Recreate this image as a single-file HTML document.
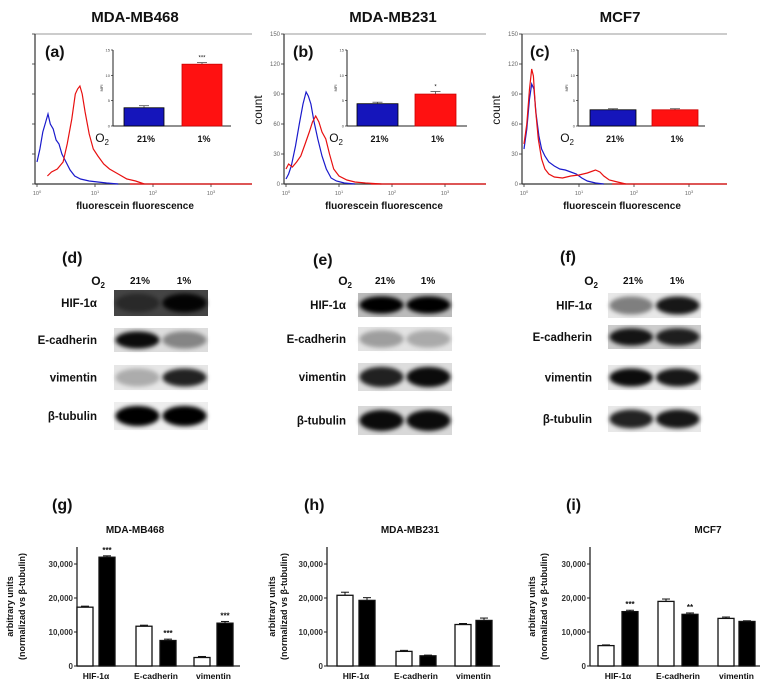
<!DOCTYPE html>
<html><head><meta charset="utf-8">
<style>
html,body{margin:0;padding:0;background:#fff;}
svg{display:block;font-family:"Liberation Sans",sans-serif;}
</style></head>
<body>
<svg id="fig" width="773" height="686" viewBox="0 0 773 686" xmlns="http://www.w3.org/2000/svg">
<defs>
<filter id="blur" x="-20%" y="-50%" width="140%" height="200%"><feGaussianBlur stdDeviation="2.2"/></filter>
</defs>
<g id="root"></g>
</svg>
<script>
// ---------- Histogram data (log10 fluorescence, count) ----------
const histA_blue_x=[0,0.05,0.1,0.15,0.19,0.23,0.28,0.33,0.38,0.43,0.5,0.57,0.65,0.75,0.9,1.05,1.2,1.4];
const histA_blue_y=[22,35,52,62,70,60,55,44,40,30,22,14,8,5,3,2,1,0];
const histA_red_x=[0.18,0.25,0.35,0.45,0.52,0.6,0.66,0.7,0.74,0.78,0.83,0.9,0.97,1.05,1.15,1.25,1.4,1.55,1.7,1.85];
const histA_red_y=[8,12,15,22,40,65,90,95,98,90,72,50,35,28,20,15,10,5,3,0];
const histB_blue_x=[0,0.05,0.1,0.18,0.25,0.32,0.38,0.42,0.47,0.53,0.6,0.68,0.76,0.85,0.95,1.1,1.3];
const histB_blue_y=[5,10,18,38,60,80,92,88,80,62,45,28,15,6,3,1,0];
const histB_red_x=[0,0.05,0.12,0.2,0.28,0.36,0.44,0.5,0.56,0.62,0.68,0.75,0.82,0.9,1.0,1.15,1.3,1.5,1.8];
const histB_red_y=[15,20,17,22,28,40,52,62,68,62,52,45,30,15,8,4,2,1,0];
const histC_blue_x=[0,0.05,0.1,0.14,0.18,0.22,0.27,0.32,0.38,0.45,0.55,0.65,0.75,0.85,0.95,1.05,1.15,1.3,1.45];
const histC_blue_y=[35,55,85,100,95,70,48,35,28,22,18,15,14,12,10,6,3,1,0];
const histC_red_x=[0,0.05,0.1,0.14,0.17,0.21,0.26,0.32,0.38,0.45,0.55,0.7,0.85,1.0,1.15,1.3,1.38,1.45,1.55,1.7,1.85];
const histC_red_y=[40,60,95,115,108,75,45,25,15,10,7,6,8,9,11,14,12,8,4,2,0];
// ---------- Inset MFI data ----------
const insetLabels=["21%","1%"];
const mfiA=[3.6,12.2]; const mfiAerr=[0.4,0.3];
const mfiB=[4.4,6.3]; const mfiBerr=[0.3,0.5];
const mfiC=[3.2,3.2]; const mfiCerr=[0.2,0.2];
const mfiStars=["***","*",""];
// ---------- Densitometry bar data ----------
const categories=["HIF-1α","E-cadherin","vimentin"];
const yTicks=[0,10000,20000,30000];
const yTickLabels=["0","10,000","20,000","30,000"];
const gNormoxia=[17300,11700,2500]; const gHypoxia=[32000,7500,12600];
const gNormErr=[300,300,300]; const gHypErr=[400,400,500];
const gStars=["***","***","***"];
const hNormoxia=[20800,4300,12200]; const hHypoxia=[19300,3000,13400];
const hNormErr=[900,300,300]; const hHypErr=[800,200,700];
const hStars=["","",""];
const iNormoxia=[6000,19000,14000]; const iHypoxia=[16000,15200,13100];
const iNormErr=[200,700,400]; const iHypErr=[400,400,200];
const iStars=["***","**",""];
// ---------- Blot band intensities (0..1) ----------
const blotRows=["HIF-1α","E-cadherin","vimentin","β-tubulin"];
const blotD=[[0.4,0.95],[0.95,0.4],[0.25,0.85],[1,1]];
const blotE=[[1,1],[0.3,0.25],[0.85,0.95],[0.95,0.95]];
const blotF=[[0.45,0.9],[0.9,0.85],[0.95,0.9],[0.85,0.9]];

const NS="http://www.w3.org/2000/svg";
const root=document.getElementById('root');
function mk(tag,attrs,parent){const e=document.createElementNS(NS,tag);for(const k in attrs)e.setAttribute(k,attrs[k]);(parent||root).appendChild(e);return e;}
function txt(s,x,y,size,opts,parent){opts=opts||{};const e=mk('text',{x:x,y:y,'font-size':size,'font-weight':opts.bold?'bold':'normal','text-anchor':opts.anchor||'start',fill:opts.fill||'#111'},parent);if(opts.rot)e.setAttribute('transform','rotate(-90 '+x+' '+y+')');e.textContent=s;return e;}

// ---------- Histogram panels ----------
const hists=[
 {id:'a',title:'MDA-MB468',tx:135,x0:35,x1:252,dec:58,lbl:'(a)',lx:45,ylabels:false,
  series:[[histA_blue_x,histA_blue_y,'#1a1acc'],[histA_red_x,histA_red_y,'#e81010']],
  inset:{ax:113,bw:40,b1:124,b2:182,right:231,v:mfiA,e:mfiAerr,s:mfiStars[0]}},
 {id:'b',title:'MDA-MB231',tx:393,x0:284,x1:486,dec:53,lbl:'(b)',lx:293,ylabels:true,cx:262,
  series:[[histB_blue_x,histB_blue_y,'#1a1acc'],[histB_red_x,histB_red_y,'#e81010']],
  inset:{ax:347,bw:41,b1:357,b2:415,right:467,v:mfiB,e:mfiBerr,s:mfiStars[1]}},
 {id:'c',title:'MCF7',tx:620,x0:522,x1:727,dec:55,lbl:'(c)',lx:530,ylabels:true,cx:500,
  series:[[histC_blue_x,histC_blue_y,'#1a1acc'],[histC_red_x,histC_red_y,'#e81010']],
  inset:{ax:578,bw:46,b1:590,b2:652,right:705,v:mfiC,e:mfiCerr,s:mfiStars[2]}}
];
const HB=184, HT=34;
function hy(c){return HB-(c/150)*(HB-HT);}
hists.forEach(p=>{
  const g=mk('g',{});
  
  
  const t=txt(p.title,p.tx,22,15,{bold:true,anchor:'middle'},g);
  
  mk('line',{x1:p.x0,y1:HT,x2:p.x1,y2:HT,stroke:'#999','stroke-width':1},g);
  mk('line',{x1:p.x0,y1:HT,x2:p.x0,y2:HB,stroke:'#333','stroke-width':1.2},g);
  mk('line',{x1:p.x0,y1:HB,x2:p.x1,y2:HB,stroke:'#333','stroke-width':1.2},g);
  for(let c=0;c<=150;c+=30){
    mk('line',{x1:p.x0-3,y1:hy(c),x2:p.x0,y2:hy(c),stroke:'#333','stroke-width':0.8},g);
    if(p.ylabels) txt(String(c),p.x0-4,hy(c)+2,6,{anchor:'end',fill:'#666'},g);
  }
  for(let d=0;d<=4;d++){
    const x=p.x0+2+d*p.dec; if(x>p.x1+3) continue;
    mk('line',{x1:x,y1:HB,x2:x,y2:HB+3,stroke:'#333','stroke-width':0.8},g);
    const tl=txt('10',x,195,5.5,{anchor:'middle',fill:'#666'},g);
    const sp=mk('tspan',{dy:-2,'font-size':4},tl);sp.textContent=String(d);
  }
  const xl=txt('fluorescein fluorescence',p.x0+100,209,10,{bold:true,anchor:'middle'},g);
  
  if(p.cx){const yl=txt('count',p.cx,110,12,{anchor:'middle',rot:true},g);}
  const pl=txt(p.lbl,p.lx,57,16,{bold:true},g);
  p.series.forEach((s,i)=>{
    const pts=s[0].map((lx,k)=>(p.x0+2+lx*p.dec).toFixed(1)+','+hy(s[1][k]).toFixed(1)).join(' ');
    const ln=mk('polyline',{points:pts,fill:'none',stroke:s[2],'stroke-width':1.2},g);
    
    
  });
  mk('line',{x1:p.x0+2+1.6*p.dec,y1:HB,x2:p.x1,y2:HB,stroke:'#e81010','stroke-width':1.2},g);
  const n=p.inset, iT=50, iB=126;
  function iy(v){return iB-(v/15)*(iB-iT);}
  const ig=mk('g',{},g);
  
  mk('line',{x1:n.ax,y1:iT,x2:n.ax,y2:iB,stroke:'#222','stroke-width':1},ig);
  mk('line',{x1:n.ax,y1:iB,x2:n.right,y2:iB,stroke:'#222','stroke-width':1},ig);
  [0,5,10,15].forEach(v=>{mk('line',{x1:n.ax-2,y1:iy(v),x2:n.ax,y2:iy(v),stroke:'#222','stroke-width':0.7},ig);txt(String(v),n.ax-3,iy(v)+1.5,4,{anchor:'end',fill:'#444'},ig);});
  txt('MFI',n.ax-10,(iT+iB)/2,4,{anchor:'middle',rot:true},ig);
  [n.b1,n.b2].forEach((bx,i)=>{
    const r=mk('rect',{x:bx,y:iy(n.v[i]),width:n.bw,height:iB-iy(n.v[i]),fill:i?'#ff1111':'#1515bb',stroke:i?'#cc0000':'#000','stroke-width':0.8},ig);
    
    const ey=iy(n.v[i]+n.e[i]);
    mk('line',{x1:bx+n.bw/2,y1:ey,x2:bx+n.bw/2,y2:iy(n.v[i]),stroke:'#333','stroke-width':0.7},ig);
    mk('line',{x1:bx+n.bw/2-5,y1:ey,x2:bx+n.bw/2+5,y2:ey,stroke:'#333','stroke-width':0.7},ig);
    txt(insetLabels[i],bx+n.bw/2+2,142,9,{bold:true,anchor:'middle'},ig);
  });
  if(n.s) txt(n.s,n.b2+n.bw/2,iy(n.v[1]+n.e[1])-3,6,{anchor:'middle'},ig);
  const o=txt('O',n.ax-4,142,12,{anchor:'end'},ig);
  const sub=mk('tspan',{dy:3,'font-size':8},o);sub.textContent='2';
});

// ---------- Western blots ----------
const blots=[
 {id:'d',lbl:'(d)',lx:62,ly:263,o2x:105,labX:97,x0:114,x1:208,c1:140,c2:184,rows:[[290,316,'#444'],[328,352,'#ddd'],[365,390,'#e6e6e6'],[402,430,'#eee']],data:blotD},
 {id:'e',lbl:'(e)',lx:313,ly:265,o2x:352,labX:346,x0:358,x1:452,c1:385,c2:428,rows:[[293,317,'#bbb'],[327,351,'#e3e3e3'],[363,391,'#ddd'],[406,435,'#d8d8d8']],data:blotE},
 {id:'f',lbl:'(f)',lx:560,ly:262,o2x:598,labX:592,x0:608,x1:701,c1:633,c2:677,rows:[[293,318,'#e8e8e8'],[325,349,'#ccc'],[365,390,'#e8e8e8'],[406,432,'#e8e8e8']],data:blotF}
];
blots.forEach(b=>{
  const g=mk('g',{});
  
  const pl=txt(b.lbl,b.lx,b.ly,16,{bold:true},g);
  const o=txt('O',b.o2x,285,12,{bold:true,anchor:'end'},g);const s=mk('tspan',{dy:3,'font-size':8},o);s.textContent='2';
  txt('21%',b.c1,284,10,{bold:true,anchor:'middle'},g);
  txt('1%',b.c2,284,10,{bold:true,anchor:'middle'},g);
  b.rows.forEach((r,i)=>{
    const mid=(r[0]+r[1])/2;
    const lab=txt(blotRows[i],b.labX,mid+4,11.5,{bold:true,anchor:'end'},g);
    
    const strip=mk('rect',{x:b.x0,y:r[0],width:b.x1-b.x0,height:r[1]-r[0],fill:r[2]},g);
    
    const w=(b.x1-b.x0)/2;
    b.data[i].forEach((v,k)=>{
      const cx=b.x0+w*k+w/2;
      const e=mk('ellipse',{cx:cx,cy:mid,rx:w*0.47,ry:(r[1]-r[0])*0.36,fill:'#000','fill-opacity':v,filter:'url(#blur)'},g);
      
    });
  });
});

// ---------- Densitometry bar charts ----------
const bars=[
 {id:'g',title:'MDA-MB468',tx:135,lbl:'(g)',lx:52,ax:77,right:240,n:gNormoxia,h:gHypoxia,ne:gNormErr,he:gHypErr,st:gStars,off:[[0,22],[59,83],[117,140]],yl:[13,25]},
 {id:'h',title:'MDA-MB231',tx:410,lbl:'(h)',lx:304,ax:327,right:500,n:hNormoxia,h:hHypoxia,ne:hNormErr,he:hHypErr,st:hStars,off:[[10,32],[69,93],[128,149]],yl:[275,287]},
 {id:'i',title:'MCF7',tx:708,lbl:'(i)',lx:566,ax:590,right:760,n:iNormoxia,h:iHypoxia,ne:iNormErr,he:iHypErr,st:iStars,off:[[8,32],[68,92],[128,149]],yl:[535,547]}
];
const BY0=666, PX10K=34;
function by(v){return BY0-v/10000*PX10K;}
bars.forEach(c=>{
  const g=mk('g',{});
  
  const pl=txt(c.lbl,c.lx,510,16,{bold:true},g);
  const t=txt(c.title,c.tx,533,10,{bold:true,anchor:'middle'},g);
  mk('line',{x1:c.ax,y1:by(35000),x2:c.ax,y2:BY0,stroke:'#222','stroke-width':1.3},g);
  mk('line',{x1:c.ax,y1:BY0,x2:c.right,y2:BY0,stroke:'#222','stroke-width':1.3},g);
  yTicks.forEach((v,k)=>{
    mk('line',{x1:c.ax-3,y1:by(v),x2:c.ax,y2:by(v),stroke:'#222','stroke-width':1},g);
    const tl=txt(yTickLabels[k],c.ax-4,by(v)+3,8,{bold:true,anchor:'end',fill:'#333'},g);
    
  });
  const midY=(by(35000)+BY0)/2;
  const y1=txt('arbitrary units',c.yl[0],midY,9,{bold:true,anchor:'middle',rot:true},g);
  
  txt('(normalizad vs β-tubulin)',c.yl[1],midY,9,{bold:true,anchor:'middle',rot:true},g);
  categories.forEach((cat,i)=>{
    const xw=c.ax+c.off[i][0], xb=c.ax+c.off[i][1], bw=16;
    const rw=mk('rect',{x:xw,y:by(c.n[i]),width:bw,height:BY0-by(c.n[i]),fill:'#fff',stroke:'#111','stroke-width':1.3},g);
    
    const rb=mk('rect',{x:xb,y:by(c.h[i]),width:bw,height:BY0-by(c.h[i]),fill:'#000',stroke:'#111','stroke-width':1.3},g);
    
    [[xw,c.n[i],c.ne[i]],[xb,c.h[i],c.he[i]]].forEach(q=>{
      const cx=q[0]+bw/2,ey=by(q[1]+q[2]);
      mk('line',{x1:cx,y1:ey,x2:cx,y2:by(q[1]),stroke:'#111','stroke-width':1},g);
      mk('line',{x1:cx-4,y1:ey,x2:cx+4,y2:ey,stroke:'#111','stroke-width':1},g);
    });
    if(c.st[i]) txt(c.st[i],xb+bw/2,by(c.h[i]+c.he[i])-3,8,{bold:true,anchor:'middle'},g);
    const cl=txt(cat,(xw+xb+bw)/2,679,8.5,{bold:true,anchor:'middle'},g);
    
  });
});
</script>
</body></html>
